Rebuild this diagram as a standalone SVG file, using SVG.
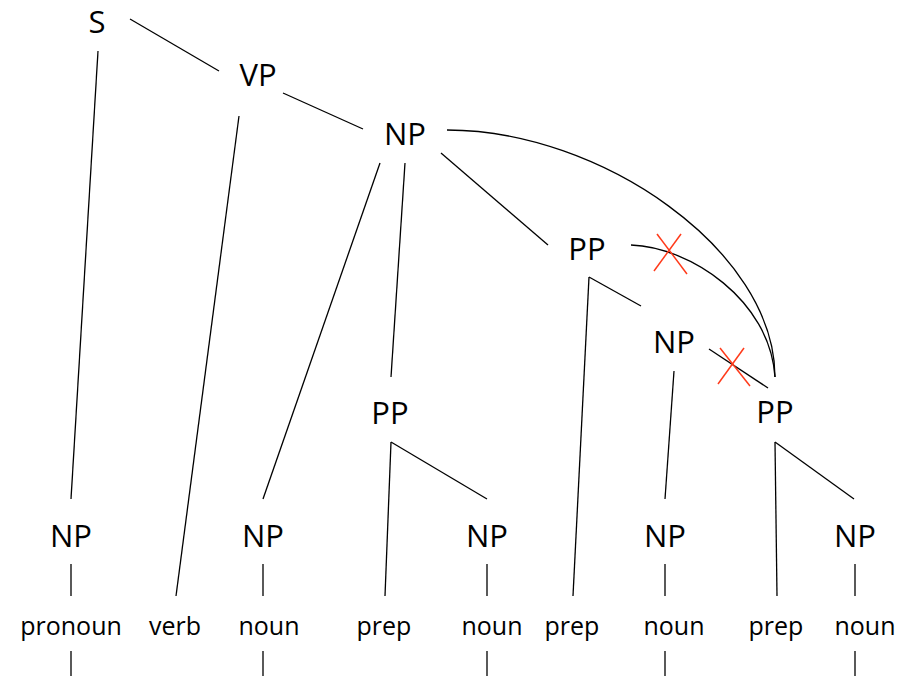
<svg xmlns="http://www.w3.org/2000/svg" width="899" height="676" viewBox="0 0 899 676">
  <style>
    .cat { font-family: "Open Sans", "Liberation Sans", sans-serif; font-size: 31px; fill: #000; text-anchor: middle; }
    .word { font-family: "Open Sans", "Liberation Sans", sans-serif; font-size: 25px; fill: #000; text-anchor: middle; }
    .edge { stroke: #000; stroke-width: 1.3; fill: none; stroke-linecap: butt; }
    .cross { stroke: #ff3a1a; stroke-width: 1.5; fill: none; }
  </style>
  <rect width="899" height="676" fill="#fff"/>

  <!-- tree edges -->
  <g id="connectors">
    <line class="edge" x1="130" y1="19" x2="219" y2="71"/>
    <line class="edge" x1="98" y1="51" x2="71" y2="499"/>
    <line class="edge" x1="283" y1="93" x2="363" y2="129"/>
    <line class="edge" x1="239" y1="116" x2="176" y2="596"/>
    <line class="edge" x1="380" y1="163" x2="263" y2="499"/>
    <line class="edge" x1="405" y1="163" x2="391" y2="377"/>
    <line class="edge" x1="441" y1="153" x2="548" y2="245"/>
    <line class="edge" x1="391" y1="442" x2="385" y2="596"/>
    <line class="edge" x1="391" y1="442" x2="487" y2="499"/>
    <line class="edge" x1="589" y1="277" x2="573" y2="596"/>
    <line class="edge" x1="589" y1="277" x2="641" y2="306"/>
    <line class="edge" x1="674" y1="371" x2="665" y2="499"/>
    <line class="edge" x1="709" y1="349" x2="768" y2="388"/>
    <line class="edge" x1="775" y1="442" x2="777" y2="596"/>
    <line class="edge" x1="775" y1="442" x2="854" y2="499"/>
    <!-- alternative attachment arcs -->
    <path class="edge" d="M447,130 C600,130 775,250 775,377"/>
    <path class="edge" d="M631,245 C690,247 770,300 775,377"/>
    <!-- word stubs -->
    <line class="edge" x1="71" y1="564" x2="71" y2="596"/>
    <line class="edge" x1="71" y1="651" x2="71" y2="676"/>
    <line class="edge" x1="263" y1="564" x2="263" y2="596"/>
    <line class="edge" x1="263" y1="651" x2="263" y2="676"/>
    <line class="edge" x1="487" y1="564" x2="487" y2="596"/>
    <line class="edge" x1="487" y1="651" x2="487" y2="676"/>
    <line class="edge" x1="665" y1="564" x2="665" y2="596"/>
    <line class="edge" x1="665" y1="651" x2="665" y2="676"/>
    <line class="edge" x1="855" y1="564" x2="855" y2="596"/>
    <line class="edge" x1="855" y1="651" x2="855" y2="676"/>
    <!-- crossed-out attachments -->
    <line class="cross" x1="657" y1="234" x2="687" y2="274"/>
    <line class="cross" x1="681" y1="234" x2="654" y2="271"/>
    <line class="cross" x1="720" y1="348" x2="750" y2="386"/>
    <line class="cross" x1="744" y1="348" x2="718" y2="384"/>
  </g>

  <!-- phrase nodes -->
  <g id="S"><text class="cat" x="97" y="33">S</text></g>
  <g id="VP"><text class="cat" x="258" y="86">VP</text></g>
  <g id="NP-obj"><text class="cat" x="405" y="145">NP</text></g>
  <g id="PP-1"><text class="cat" x="390" y="424">PP</text></g>
  <g id="PP-2"><text class="cat" x="587" y="260">PP</text></g>
  <g id="NP-2"><text class="cat" x="674" y="353">NP</text></g>
  <g id="PP-3"><text class="cat" x="775" y="423">PP</text></g>
  <g id="NP-subj"><text class="cat" x="71" y="547">NP</text></g>
  <g id="NP-noun1"><text class="cat" x="263" y="547">NP</text></g>
  <g id="NP-noun2"><text class="cat" x="487" y="547">NP</text></g>
  <g id="NP-noun3"><text class="cat" x="665" y="547">NP</text></g>
  <g id="NP-noun4"><text class="cat" x="855" y="547">NP</text></g>

  <!-- part-of-speech nodes -->
  <g id="w-pronoun"><text class="word" x="71" y="635">pronoun</text></g>
  <g id="w-verb"><text class="word" x="175" y="635">verb</text></g>
  <g id="w-noun1"><text class="word" x="269" y="635">noun</text></g>
  <g id="w-prep1"><text class="word" x="384" y="635">prep</text></g>
  <g id="w-noun2"><text class="word" x="492" y="635">noun</text></g>
  <g id="w-prep2"><text class="word" x="572" y="635">prep</text></g>
  <g id="w-noun3"><text class="word" x="674" y="635">noun</text></g>
  <g id="w-prep3"><text class="word" x="776" y="635">prep</text></g>
  <g id="w-noun4"><text class="word" x="865" y="635">noun</text></g>
</svg>
